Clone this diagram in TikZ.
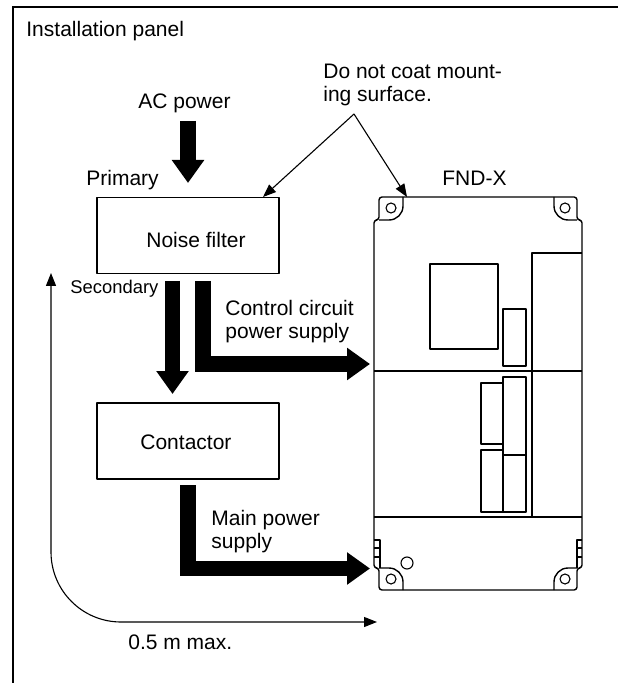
\documentclass[tikz,border=0pt]{standalone}
\usepackage{fontspec}
\setmainfont{Liberation Sans}
\usetikzlibrary{arrows.meta,positioning,calc}
\tikzset{x=0.5pt,y=-0.5pt}
\begin{document}
\begin{tikzpicture}[
  line join=round,
  unit/.style={draw=black,line width=0.75pt,rectangle,minimum width=91pt,minimum height=38pt,anchor=north west,inner sep=0pt},
  label/.style={anchor=base west,inner sep=0pt,align=left,font=\fontsize{10.5}{11.5}\selectfont},
  power/.style={-{Triangle[length=11.5pt,width=15.5pt]},line width=7.8pt,line join=miter},
  thin arr/.style={-{Triangle[length=6.5pt,width=5pt]},line width=0.55pt},
  case/.style={line width=0.7pt},
  hole/.style={circle,draw=black,line width=0.55pt,minimum size=5pt,inner sep=0pt}
]
\useasboundingbox (0,0) rectangle (618,683);
% panel outline
\draw[line width=1pt,line join=miter] (12.5,683) -- (12.5,7.5) -- (618,7.5);
\node[label] (panel) at (26,37) {Installation panel};
% left column
\node[unit] (filter) at (96,197) {};
\node[label] (filtertxt) at (146,248) {Noise filter};
\node[unit] (contactor) at (96,402) {};
\node[label] (contactortxt) at (140,449) {Contactor};
\node[label] (ac) at (138,109) {AC power};
\node[label] (primary) at (86,186) {Primary};
\node[label,font=\fontsize{9.2}{11}\selectfont] (secondary) at (70,293) {Secondary};
\node[label] (control) at (225,338) {Control circuit\\power supply};
\node[label] (mainpow) at (211,548) {Main power\\supply};
\node[label] (coat) at (323,102) {Do not coat mount-\\ing surface.};
\node[label] (fnd) at (442,186) {FND-X};
\node[label] (max) at (128,649) {0.5 m max.};
% device
\draw[case,rounded corners=1.5pt] (379,220) -- (379,197) -- (577,197) -- (577,220) -- (582,220) -- (582,568) -- (577,568) -- (577,590) -- (379,590) -- (379,568) -- (374,568) -- (374,220) -- cycle;
\draw[case] (403,197) -- (403,206) arc[start angle=0,end angle=90,radius=14] -- (379,220);
\draw[case] (554,197) -- (554,206) arc[start angle=180,end angle=90,radius=14] -- (577,220);
\draw[case] (379,568) -- (389,568) arc[start angle=-90,end angle=0,radius=14] -- (403,590);
\draw[case] (577,568) -- (568,568) arc[start angle=-90,end angle=-180,radius=14] -- (554,590);
\draw[case] (374,371) -- (582,371);
\draw[case] (374,517) -- (582,517);
\draw[case] (582,253) -- (532,253) -- (532,517);
\draw[case] (430,264) rectangle (498,349);
\draw[case] (503,309) rectangle (526,366);
\draw[case] (503,377) rectangle (526,455);
\draw[case] (503,455) rectangle (526,512);
\draw[case] (481,383) rectangle (503,444);
\draw[case] (481,450) rectangle (503,512);
\draw[case] (374,540) -- (380,540) -- (380,568);
\draw[case] (374,548) -- (380,548);
\draw[case] (374,557) -- (380,557);
\draw[case] (582,540) -- (577,540) -- (577,568);
\draw[case] (582,548) -- (577,548);
\draw[case] (582,557) -- (577,557);
\node[hole] (holea) at (391,208) {};
\node[hole] (holeb) at (565,208) {};
\node[hole] (holec) at (391,579) {};
\node[hole] (holed) at (565,579) {};
\node[hole,minimum size=6pt] (holee) at (407,563) {};
% power arrows
\coordinate (acin) at (188,121);
\coordinate (acend) at (188,183);
\coordinate (secin) at (172.5,281);
\coordinate (secend) at (172.5,394);
\coordinate (ctrlin) at (203,281);
\coordinate (ctrlend) at (370,364);
\coordinate (mainin) at (188,485);
\coordinate (mainend) at (370,568.5);
\draw[power] (acin) -- (acend);
\draw[power] (secin) -- (secend);
\draw[power] (ctrlin) |- (ctrlend);
\draw[power] (mainin) |- (mainend);
% pointers
\coordinate (apex) at (354,114);
\coordinate (filtertip) at (263,197);
\coordinate (casetip) at (407,197);
\draw[thin arr] (apex) -- (filtertip);
\draw[thin arr] (apex) -- (casetip);
% length
\coordinate (maxa) at (51,273);
\coordinate (maxb) at (377,622);
\draw[thin arr,{Triangle[length=6.5pt,width=5pt]}-{Triangle[length=6.5pt,width=5pt]}] (maxa) -- (51,552) arc[start angle=180,end angle=90,radius=70] -- (maxb);
\end{tikzpicture}
\end{document}
